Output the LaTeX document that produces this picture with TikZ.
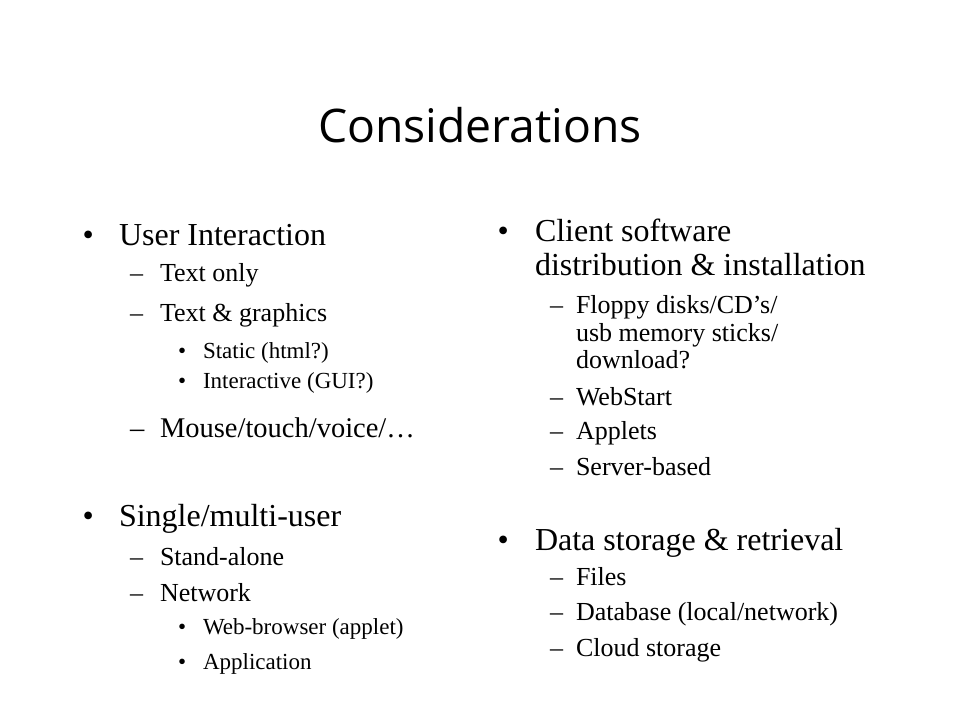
\documentclass[tikz,border=0pt]{standalone}
\usepackage{fontspec}
\setmainfont{Liberation Serif}
\newfontfamily\titlefont{Open Sans}
\begin{document}
\begin{tikzpicture}[x=1pt,y=-1pt,
  every node/.style={inner sep=0pt,outer sep=0pt,anchor=base west,text=black},
  lone/.style={font=\fontsize{32}{38}\selectfont},
  ltwo/.style={font=\fontsize{26}{31}\selectfont},
  lmouse/.style={font=\fontsize{28.5}{33}\selectfont},
  lthree/.style={font=\fontsize{23}{28}\selectfont}]
\useasboundingbox (0,0) rectangle (960,720);
\fill[white] (0,0) rectangle (960,720);
% title
\node[anchor=base] (title) at (480,142) {\resizebox{324pt}{!}{\titlefont\fontsize{50}{60}\selectfont Considerations}};
% left column
\node[lone] (lb1) at (82.5,245) {•};
\node[lone] (l1) at (119,245) {User Interaction};
\node[ltwo] (ld1) at (130,281) {–};
\node[ltwo] (l11) at (160,281) {Text only};
\node[ltwo] (ld2) at (130,321) {–};
\node[ltwo] (l12) at (160,321) {Text \& graphics};
\node[lthree] (lb121) at (178,358) {•};
\node[lthree] (l121) at (203,358) {Static (html?)};
\node[lthree] (lb122) at (178,388) {•};
\node[lthree] (l122) at (203,388) {Interactive (GUI?)};
\node[lmouse] (ld3) at (130,437) {–};
\node[lmouse] (l13) at (160,437) {Mouse/touch/voice/…};
\node[lone] (lb2) at (82.5,526) {•};
\node[lone] (l2) at (119,526) {Single/multi-user};
\node[ltwo] (ld4) at (130,565) {–};
\node[ltwo] (l21) at (160,565) {Stand-alone};
\node[ltwo] (ld5) at (130,601) {–};
\node[ltwo] (l22) at (160,601) {Network};
\node[lthree] (lb221) at (178,634) {•};
\node[lthree] (l221) at (203,634) {Web-browser (applet)};
\node[lthree] (lb222) at (178,669) {•};
\node[lthree] (l222) at (203,669) {Application};
% right column
\node[lone] (rb1) at (497.5,241) {•};
\node[lone] (r1a) at (535,241) {Client software};
\node[lone] (r1b) at (535,275) {distribution \& installation};
\node[ltwo] (rd1) at (550,313) {–};
\node[ltwo] (r11a) at (576,313) {Floppy disks/CD’s/};
\node[ltwo] (r11b) at (576,341) {usb memory sticks/};
\node[ltwo] (r11c) at (576,368) {download?};
\node[ltwo] (rd2) at (550,405) {–};
\node[ltwo] (r12) at (576,405) {WebStart};
\node[ltwo] (rd3) at (550,439) {–};
\node[ltwo] (r13) at (576,439) {Applets};
\node[ltwo] (rd4) at (550,475) {–};
\node[ltwo] (r14) at (576,475) {Server-based};
\node[lone] (rb2) at (497.5,550) {•};
\node[lone] (r2) at (535,550) {Data storage \& retrieval};
\node[ltwo] (rd5) at (550,585) {–};
\node[ltwo] (r21) at (576,585) {Files};
\node[ltwo] (rd6) at (550,620) {–};
\node[ltwo] (r22) at (576,620) {Database (local/network)};
\node[ltwo] (rd7) at (550,656) {–};
\node[ltwo] (r23) at (576,656) {Cloud storage};
\end{tikzpicture}
\end{document}
